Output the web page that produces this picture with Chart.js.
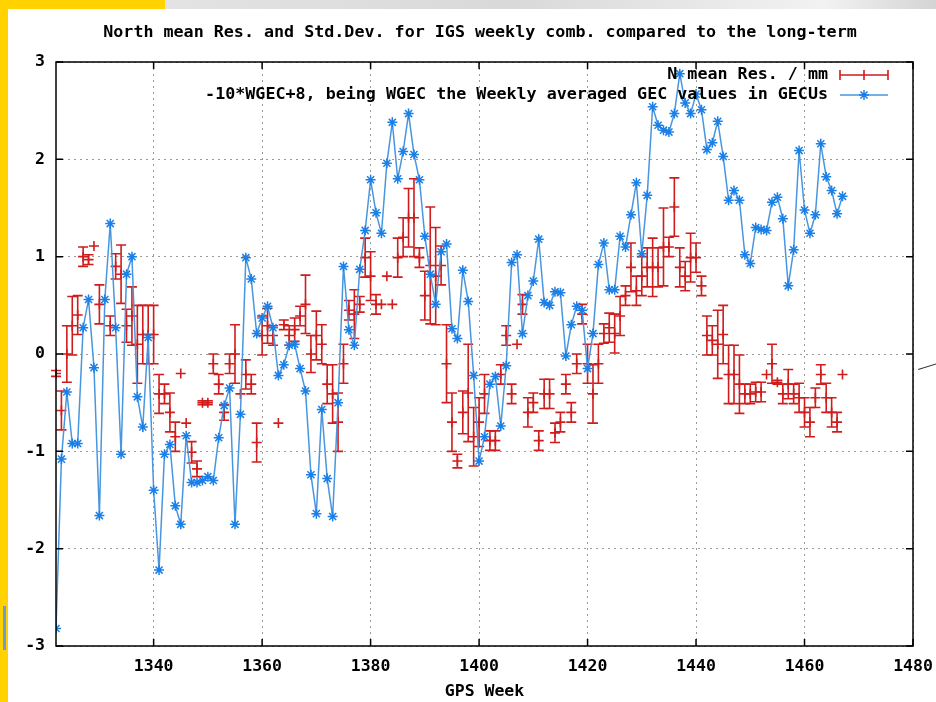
<!DOCTYPE html>
<html>
<head>
<meta charset="utf-8">
<title>North mean Res. and Std.Dev.</title>
<script src="https://cdn.jsdelivr.net/npm/chart.js@4.4.1/dist/chart.umd.min.js"></script>
<style>
  html, body { margin: 0; padding: 0; background: #fff; }
  #wrap { position: relative; width: 936px; height: 702px; overflow: hidden; background: #fff; }
  .band  { position: absolute; left: 0; top: 0; width: 936px; height: 9px;
           background: linear-gradient(90deg, #e8e8e8, #d9d9d9 55%, #f2f2f2 88%, #d4d4d4); }
  .ytop  { position: absolute; left: 0; top: 0; width: 165px; height: 9px; background: #ffd200; }
  .yleft { position: absolute; left: 0; top: 0; width: 8px; height: 702px; background: #ffd200; }
  .bmark { position: absolute; left: 3px; top: 606px; width: 3px; height: 44px; background: #6f9bd8; }
  .scrap { position: absolute; left: 918px; top: 369px; width: 20px; height: 1px; background: #333;
           transform: rotate(-17deg); transform-origin: 0 0; }
  canvas { position: absolute; left: 0; top: 0; }
</style>
</head>
<body>
<div id="wrap">
  <div class="band"></div><div class="ytop"></div><div class="yleft"></div><div class="bmark"></div><div class="scrap"></div>
  <canvas id="ch" width="936" height="702"></canvas>
</div>
<script>
// ---- data ----
const TITLE = 'North mean Res. and Std.Dev. for IGS weekly comb. compared to the long-term';
const RES_LABEL = 'N mean Res. / mm';
const GEC_LABEL = '-10*WGEC+8, being WGEC the Weekly averaged GEC values in GECUs';
const X_TITLE = 'GPS Week';

const weeks = [
  1322,1323,1324,1325,1326,1327,1328,1329,1330,1331,
  1332,1333,1334,1335,1336,1337,1338,1339,1340,1341,
  1342,1343,1344,1345,1346,1347,1348,1349,1350,1351,
  1352,1353,1354,1355,1356,1357,1358,1359,1360,1361,
  1362,1363,1364,1365,1366,1367,1368,1369,1370,1371,
  1372,1373,1374,1375,1376,1377,1378,1379,1380,1381,
  1382,1383,1384,1385,1386,1387,1388,1389,1390,1391,
  1392,1393,1394,1395,1396,1397,1398,1399,1400,1401,
  1402,1403,1404,1405,1406,1407,1408,1409,1410,1411,
  1412,1413,1414,1415,1416,1417,1418,1419,1420,1421,
  1422,1423,1424,1425,1426,1427,1428,1429,1430,1431,
  1432,1433,1434,1435,1436,1437,1438,1439,1440,1441,
  1442,1443,1444,1445,1446,1447,1448,1449,1450,1451,
  1452,1453,1454,1455,1456,1457,1458,1459,1460,1461,
  1462,1463,1464,1465,1466,1467
];

// N mean residual (mm) and its std.dev. (half error bar)
const resMean = [
  -0.20,-0.58, 0.00, 0.29, 0.40, 1.00, 0.97, 1.11, 0.51, null,
   0.29, 0.90, 0.82, 0.29, 0.39, 0.10, 0.20, 0.20, 0.20,-0.41,
  -0.41,-0.60,-0.85,-0.20,-0.71,-1.01,-1.18,-0.50,-0.50,-0.10,
  -0.31,-0.60,-0.10, 0.00,-0.41,-0.21,-0.31,-0.91, 0.19, 0.29,
   0.19,-0.71, 0.30, 0.19, 0.25, 0.39, 0.51, 0.00, 0.19, 0.10,
  -0.31,-0.41,-0.70,-0.10, 0.45, 0.41, 0.51, 0.99, 0.80, 0.51,
   0.51, 0.80, 0.51, 0.99, 1.20, 1.40, 1.40, 0.99, 0.60, 0.91,
   0.80, 0.91,-0.10,-0.70,-1.10,-0.60,-0.40,-0.85,-0.70,-0.41,
  -0.89,-0.89,-0.21, 0.19,-0.41, 0.10, 0.51,-0.60,-0.50,-0.89,
  -0.41,-0.41,-0.81,-0.70,-0.31,-0.60,-0.10, 0.41,-0.10,-0.41,
  -0.10, 0.21, 0.27, 0.21, 0.39, 0.60, 0.89, 0.65, 0.80, 0.89,
   0.89, 0.89, 1.10, 1.10, 1.51, 0.89, 0.80, 0.99, 0.99, 0.70,
   0.19, 0.14, 0.10, 0.20,-0.21,-0.21,-0.31,-0.41,-0.41,-0.39,
  -0.39,-0.21,-0.10,-0.29,-0.41,-0.31,-0.41,-0.45,-0.60,-0.70,
  -0.45,-0.21,-0.45,-0.60,-0.70,-0.21
];
const resStd = [
  0.03,0.20,0.29,0.30,0.20,0.10,0.05,0.00,0.20,null,
  0.10,0.13,0.30,0.17,0.30,0.40,0.30,0.30,0.30,0.20,
  0.10,0.20,0.15,0.00,0.00,0.11,0.08,0.02,0.02,0.10,
  0.10,0.08,0.10,0.30,0.00,0.15,0.10,0.20,0.20,0.18,
  0.10,0.00,0.05,0.10,0.12,0.10,0.30,0.19,0.25,0.20,
  0.20,0.30,0.30,0.20,0.10,0.25,0.08,0.20,0.25,0.10,
  0.00,0.00,0.00,0.20,0.20,0.30,0.40,0.10,0.25,0.60,
  0.50,0.20,0.40,0.30,0.07,0.22,0.50,0.30,0.25,0.20,
  0.10,0.10,0.10,0.10,0.10,0.00,0.10,0.15,0.10,0.10,
  0.15,0.15,0.10,0.10,0.10,0.10,0.10,0.10,0.20,0.30,
  0.20,0.10,0.15,0.20,0.20,0.10,0.25,0.15,0.20,0.20,
  0.30,0.20,0.40,0.10,0.30,0.20,0.15,0.25,0.15,0.10,
  0.20,0.15,0.35,0.30,0.30,0.30,0.30,0.10,0.10,0.10,
  0.10,0.00,0.20,0.02,0.10,0.15,0.10,0.15,0.15,0.15,
  0.10,0.10,0.15,0.15,0.10,0.00
];

// -10*WGEC+8
const gecScaled = [
  -2.82,-1.08,-0.39,-0.92,-0.92, 0.27, 0.56,-0.14,-1.66, 0.56,
   1.34, 0.27,-1.03, 0.82, 1.00,-0.44,-0.75, 0.17,-1.40,-2.22,
  -1.03,-0.93,-1.56,-1.75,-0.84,-1.32,-1.32,-1.30,-1.26,-1.30,
  -0.86,-0.53,-0.35,-1.75,-0.62, 0.99, 0.77, 0.21, 0.37, 0.49,
   0.27,-0.22,-0.11, 0.09, 0.10,-0.15,-0.38,-1.24,-1.64,-0.57,
  -1.28,-1.67,-0.50, 0.90, 0.25, 0.09, 0.87, 1.27, 1.79, 1.45,
   1.24, 1.96, 2.38, 1.80, 2.08, 2.47, 2.05, 1.79, 1.21, 0.82,
   0.51, 1.05, 1.13, 0.26, 0.16, 0.86, 0.54,-0.22,-1.10,-0.85,
  -0.31,-0.23,-0.74,-0.12, 0.94, 1.02, 0.21, 0.60, 0.75, 1.18,
   0.53, 0.50, 0.64, 0.63,-0.02, 0.30, 0.49, 0.45,-0.15, 0.21,
   0.92, 1.14, 0.66, 0.66, 1.21, 1.10, 1.43, 1.76, 1.03, 1.63,
   2.54, 2.35, 2.30, 2.28, 2.47, 2.88, 2.58, 2.47, 2.67, 2.51,
   2.10, 2.17, 2.39, 2.03, 1.58, 1.68, 1.58, 1.02, 0.93, 1.30,
   1.28, 1.27, 1.56, 1.61, 1.39, 0.70, 1.07, 2.09, 1.48, 1.24,
   1.43, 2.16, 1.82, 1.68, 1.44, 1.62
];

const X_MIN = 1322, X_MAX = 1480, X_STEP = 20;
const Y_MIN = -3, Y_MAX = 3, Y_STEP = 1;

const RED = '#d01c1c';
const BLUE_LINE = '#4896e0';
const BLUE_PT = '#1a7fe6';
const FONT = 'bold 16.7px "DejaVu Sans Mono", "Liberation Mono", monospace';
const TICK_FONT = { family: '"DejaVu Sans Mono"', size: 16.5, weight: 'bold' };

// ---- gnuplot-ish bits: error bars, frame, inner tics, key, title ----
const gnuplotBits = {
  id: 'gnuplotBits',
  beforeDatasetDraw(chart, args) {
    if (args.index !== 0) return;
    const { ctx, scales: { x, y } } = chart;
    ctx.save();
    ctx.strokeStyle = RED; ctx.lineWidth = 1.6;
    weeks.forEach((w, i) => {
      const v = resMean[i], e = resStd[i];
      if (v === null || !e) return;
      const px = x.getPixelForValue(w);
      const t = y.getPixelForValue(v + e), b = y.getPixelForValue(v - e);
      ctx.beginPath();
      ctx.moveTo(px, t); ctx.lineTo(px, b);
      ctx.moveTo(px - 5, t); ctx.lineTo(px + 5, t);
      ctx.moveTo(px - 5, b); ctx.lineTo(px + 5, b);
      ctx.stroke();
    });
    ctx.restore();
  },
  afterDraw(chart) {
    const { ctx, chartArea: a, scales: { x, y } } = chart;
    ctx.save();
    // frame
    ctx.strokeStyle = '#000'; ctx.lineWidth = 1.5;
    ctx.strokeRect(a.left, a.top, a.right - a.left, a.bottom - a.top);
    // inner tics, mirrored
    ctx.beginPath();
    x.ticks.forEach(t => {
      const px = x.getPixelForValue(t.value);
      ctx.moveTo(px, a.bottom); ctx.lineTo(px, a.bottom - 7);
      ctx.moveTo(px, a.top); ctx.lineTo(px, a.top + 7);
    });
    y.ticks.forEach(t => {
      const py = y.getPixelForValue(t.value);
      ctx.moveTo(a.left, py); ctx.lineTo(a.left + 7, py);
      ctx.moveTo(a.right, py); ctx.lineTo(a.right - 7, py);
    });
    ctx.stroke();

    ctx.font = FONT; ctx.fillStyle = '#000';
    ctx.textAlign = 'center'; ctx.textBaseline = 'middle';
    ctx.fillText(TITLE, 480, 33);

    // key: text right aligned, sample on the right
    const kx = 828, s0 = 840, s1 = 888, r1 = 75, r2 = 95, sm = (s0 + s1) / 2;
    ctx.textAlign = 'right';
    ctx.fillText(chart.data.datasets[0].label, kx, r1);
    ctx.fillText(chart.data.datasets[1].label, kx, r2);

    ctx.strokeStyle = RED; ctx.lineWidth = 1.6;
    ctx.beginPath();
    ctx.moveTo(s0, r1); ctx.lineTo(s1, r1);
    ctx.moveTo(s0, r1 - 5); ctx.lineTo(s0, r1 + 5);
    ctx.moveTo(s1, r1 - 5); ctx.lineTo(s1, r1 + 5);
    ctx.moveTo(sm, r1 - 5); ctx.lineTo(sm, r1 + 5);
    ctx.stroke();

    ctx.strokeStyle = BLUE_LINE; ctx.lineWidth = 1.5;
    ctx.beginPath(); ctx.moveTo(s0, r2); ctx.lineTo(s1, r2); ctx.stroke();
    ctx.strokeStyle = BLUE_PT; ctx.fillStyle = BLUE_PT;
    Chart.helpers.drawPoint(ctx, { pointStyle: 'star', radius: 5, borderWidth: 1.5 }, sm, r2);
    ctx.restore();
  }
};

const resPts = weeks.map((w, i) => ({ x: w, y: resMean[i] }));
const gecPts = weeks.map((w, i) => ({ x: w, y: gecScaled[i] }));

new Chart(document.getElementById('ch'), {
  type: 'line',
  data: {
    datasets: [
      {
        label: RES_LABEL, data: resPts, showLine: false, order: 1,
        pointStyle: 'cross', pointRadius: 5, pointBorderWidth: 1.6,
        borderColor: RED, backgroundColor: RED, pointHoverRadius: 5
      },
      {
        label: GEC_LABEL, data: gecPts, order: 0,
        borderColor: BLUE_LINE, borderWidth: 1.5, tension: 0,
        pointStyle: 'star', pointRadius: 5, pointBorderWidth: 1.5,
        pointBorderColor: BLUE_PT, pointBackgroundColor: BLUE_PT, pointHoverRadius: 5
      }
    ]
  },
  options: {
    responsive: false,
    animation: false,
    events: [],
    layout: { padding: { top: 62, right: 23, left: 0, bottom: 0 } },
    plugins: { legend: { display: false }, title: { display: false }, tooltip: { enabled: false } },
    scales: {
      x: {
        type: 'linear', min: X_MIN, max: X_MAX,
        afterFit: s => { s.height = 56; s.paddingLeft = 0; s.paddingRight = 0; },
        ticks: { stepSize: X_STEP, includeBounds: false, color: '#000', padding: 11,
                 font: TICK_FONT, callback: v => String(v) },
        grid: { color: '#9a9a9a', lineWidth: 1, drawTicks: false },
        border: { display: false, dash: [2, 4] },
        title: { display: true, text: X_TITLE, color: '#000', padding: { top: 0, bottom: 0 },
                 font: TICK_FONT }
      },
      y: {
        min: Y_MIN, max: Y_MAX,
        afterFit: s => { s.width = 56; s.paddingTop = 0; s.paddingBottom = 0; },
        ticks: { stepSize: Y_STEP, color: '#000', padding: 11, font: TICK_FONT,
                 callback: v => String(v) },
        grid: { color: '#9a9a9a', lineWidth: 1, drawTicks: false },
        border: { display: false, dash: [2, 4] }
      }
    }
  },
  plugins: [gnuplotBits]
});
</script>
</body>
</html>
